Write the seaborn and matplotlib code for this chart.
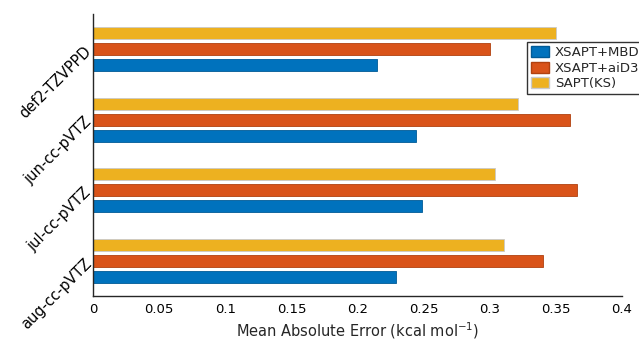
import matplotlib
matplotlib.use("Agg")
import matplotlib.pyplot as plt
import pandas as pd
import seaborn as sns
from matplotlib.patches import Patch

basis_sets = ["def2-TZVPPD", "jun-cc-pVTZ", "jul-cc-pVTZ", "aug-cc-pVTZ"]
mae_mbd = [0.215, 0.244, 0.249, 0.229]
mae_aid3 = [0.300, 0.361, 0.366, 0.340]
mae_saptks = [0.350, 0.321, 0.304, 0.311]

methods = ["XSAPT+MBD", "XSAPT+aiD3", "SAPT(KS)"]
colors = {"XSAPT+MBD": "#0072BD", "XSAPT+aiD3": "#D95319", "SAPT(KS)": "#EDB120"}
edges = {"XSAPT+MBD": "#005a96", "XSAPT+aiD3": "#b0410f", "SAPT(KS)": "#c9c9c9"}

df = pd.DataFrame({
    "basis": basis_sets * 3,
    "method": ["XSAPT+MBD"] * 4 + ["XSAPT+aiD3"] * 4 + ["SAPT(KS)"] * 4,
    "mae": mae_mbd + mae_aid3 + mae_saptks,
})

sns.set_style("white")
plt.rcParams["font.family"] = ["DejaVu Sans"]

fig = plt.figure(figsize=(6.39, 3.41), dpi=100)
ax = fig.add_axes([93 / 639, 1 - 296 / 341, (622 - 93) / 639, (296 - 14) / 341])

draw_order = ["SAPT(KS)", "XSAPT+aiD3", "XSAPT+MBD"]
sns.barplot(
    data=df, x="mae", y="basis", hue="method", hue_order=draw_order,
    order=basis_sets, palette=colors, saturation=1, orient="h", width=0.675,
    gap=0.245, ax=ax, legend=False, errorbar=None,
)
for cont, m in zip(ax.containers, draw_order):
    for p in cont:
        p.set_edgecolor(edges[m])
        p.set_linewidth(0.6)

ax.set_xlim(0, 0.4)
ax.set_ylim(3.5, -0.5)
ax.set_xticks([0, 0.05, 0.1, 0.15, 0.2, 0.25, 0.3, 0.35, 0.4])
ax.set_xticklabels(["0", "0.05", "0.1", "0.15", "0.2", "0.25", "0.3", "0.35", "0.4"])
ax.set_xlabel("Mean Absolute Error (kcal mol$^{-1}$)", fontsize=10.5, labelpad=3)
ax.set_ylabel("")
ax.set_yticks(range(4))
ax.set_yticklabels(basis_sets, rotation=45, ha="right", va="center",
                   rotation_mode="anchor", fontsize=10.5)
ax.tick_params(axis="x", direction="in", length=5, width=1, color="#262626",
               labelsize=9.5, labelcolor="black", pad=5)
ax.tick_params(axis="y", direction="in", length=5, width=1, color="#262626",
               labelcolor="black", pad=3)
sns.despine(ax=ax)
for s in ["left", "bottom"]:
    ax.spines[s].set_color("#262626")
    ax.spines[s].set_linewidth(1)

handles = [Patch(facecolor=colors[m], edgecolor=edges[m], label=m) for m in methods]
leg = fig.legend(
    handles=handles, loc="upper left", bbox_to_anchor=(527 / 639, 1 - 42 / 341),
    frameon=True, fancybox=False, edgecolor="black", fontsize=9.5,
    handlelength=1.4, handleheight=0.9, handletextpad=0.4, labelspacing=0.2,
    borderpad=0.3, borderaxespad=0,
)
leg.get_frame().set_linewidth(1)

fig.savefig("out.png", dpi=100)
